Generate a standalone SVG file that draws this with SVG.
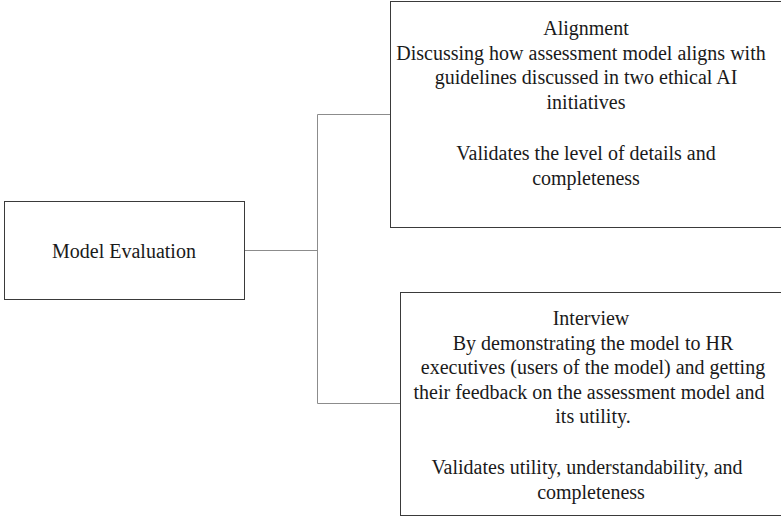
<svg xmlns="http://www.w3.org/2000/svg" width="781" height="517" viewBox="0 0 781 517">
<style>
.box{fill:#fff;stroke:#3a3a3a;stroke-width:1}
.conn{fill:none;stroke:#8c8c8c;stroke-width:1}
text{font-family:"Liberation Serif","Times New Roman",serif;font-size:20px;fill:#1a1a1a;text-anchor:middle}
</style>
<rect width="781" height="517" fill="#fff"/>
<g id="connectors">
<path class="conn" d="M244.5 250.5 H317.5 M317.5 114.5 V403.5 M317.5 114.5 H390.5 M317.5 403.5 H400.5"/>
</g>
<g id="model-evaluation">
<rect class="box" x="4.5" y="201.5" width="240" height="98"/>
<text x="124" y="258">Model Evaluation</text>
</g>
<g id="alignment">
<rect class="box" x="390.5" y="1.5" width="392" height="226"/>
<text x="586" y="35">Alignment</text>
<text x="581" y="59.5">Discussing how assessment model aligns with</text>
<text x="586" y="84">guidelines discussed in two ethical AI</text>
<text x="586" y="108.5">initiatives</text>
<text x="586" y="160">Validates the level of details and</text>
<text x="586" y="184.5">completeness</text>
</g>
<g id="interview">
<rect class="box" x="400.5" y="292.5" width="382" height="223"/>
<text x="591" y="325">Interview</text>
<text x="593" y="349.5">By demonstrating the model to HR</text>
<text x="593" y="374">executives (users of the model) and getting</text>
<text x="589" y="398.5">their feedback on the assessment model and</text>
<text x="593" y="423">its utility.</text>
<text x="587" y="474">Validates utility, understandability, and</text>
<text x="591" y="498.5">completeness</text>
</g>
</svg>
